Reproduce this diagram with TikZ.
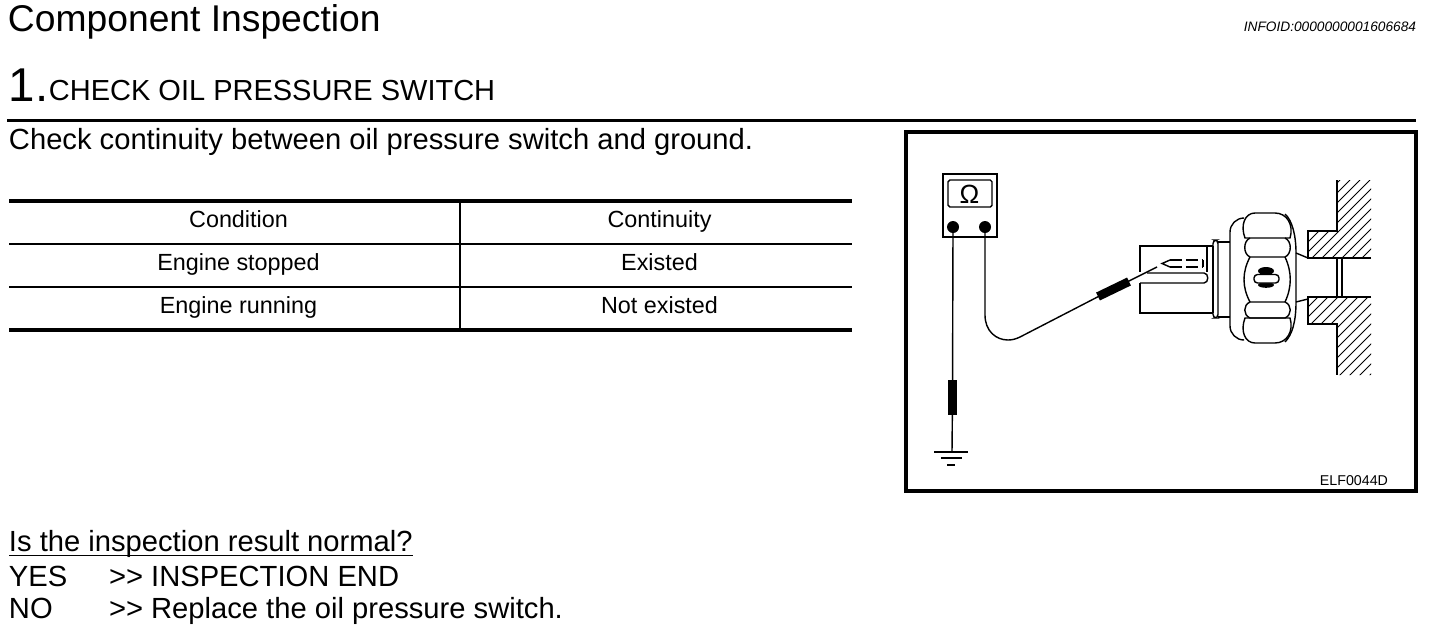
\documentclass[tikz,border=0pt]{standalone}
\usepackage{fontspec}
\setmainfont[Ligatures=NoCommon]{Liberation Sans}
\usetikzlibrary{positioning}
\tikzset{
  txt/.style={anchor=base west, inner sep=0pt, outer sep=0pt},
  big/.style={txt, font=\fontsize{21.2}{24}\selectfont},
  body/.style={txt, font=\fontsize{16.6}{20}\selectfont},
  cell/.style={anchor=base, inner sep=0pt, font=\fontsize{13.3}{16}\selectfont},
  rule/.style={black, line width=1.8pt},
  fine/.style={black, line width=0.7pt},
  part/.style={black, line width=0.8pt},
  hatch/.style={black, line width=0.55pt}
}
\begin{document}
\begin{tikzpicture}[x=0.02cm, y=-0.02cm]
\useasboundingbox (0,0) rectangle (1440,630);
%heading
\node[big] (title) at (8,31) {Component Inspection};
\node[txt, font=\fontsize{7.8}{9}\selectfont\itshape, anchor=base east] (infoid) at (1416,31) {INFOID:0000000001606684};
\node[txt, font=\fontsize{27}{30}\selectfont] (num) at (9,101) {1.};
\node[txt, font=\fontsize{16.5}{20}\selectfont] (step) at (49,100) {CHECK OIL PRESSURE SWITCH};
\draw[rule] (7,120.5) -- (1416,120.5);
\node[body] (check) at (9,149) {Check continuity between oil pressure switch and ground.};
%table
\draw[rule] (9,201) -- (852,201);
\draw[fine] (9,244) -- (852,244);
\draw[fine] (9,287) -- (852,287);
\draw[rule] (9,330) -- (852,330);
\draw[fine] (460,201) -- (460,330);
\node[cell] (cond) at (238.5,227) {Condition};
\node[cell] (cont) at (659.5,227) {Continuity};
\node[cell] (stopped) at (238.5,270) {Engine stopped};
\node[cell] (existed) at (659.5,270) {Existed};
\node[cell] (running) at (238.5,313) {Engine running};
\node[cell] (notex) at (659.5,313) {Not existed};
%result
\node[body] (result) at (9,551) {Is the inspection result normal?};
\draw[fine] (9,555.5) -- (413,555.5);
\node[body] (yes) at (9,586) {YES};
\node[body] (yesend) at (109,586) {>{}> INSPECTION END};
\node[body] (no) at (9,618) {NO};
\node[body] (noend) at (109,618) {>{}> Replace the oil pressure switch.};
%frame
\draw[black, line width=2pt] (906,132) rectangle (1416,491);
\node[txt, font=\fontsize{8.1}{9}\selectfont, anchor=base east] (elf) at (1388,485) {ELF0044D};
%meter
\draw[part] (943,174) rectangle (997,237);
\draw[part, rounded corners=1pt] (948,180) rectangle (992,207);
\node[inner sep=0pt, font=\fontsize{15}{16}\selectfont] (ohm) at (969.5,194) {Ω};
\fill (953,227) circle (6);
\fill (985,227) circle (6);
\coordinate (termA) at (953,227);
\coordinate (termB) at (985,227);
%leads
\coordinate (probeA) at (952.5,398);
\coordinate (gnd) at (952,452);
\coordinate (probeB) at (1112,289.5);
\coordinate (tipB) at (1157,267);
\draw[part] (termA) -- (probeA) -- (gnd);
\draw[part] (termB) -- (985,315) .. controls (985,331) and (996,340) .. (1008,340) .. controls (1012,340) and (1016,339) .. (1020,337) -- (probeB) -- (tipB);
\draw[black, line width=5pt] (952.5,380) -- (952.5,415);
\draw[black, line width=5pt] (1098,296.5) -- (1129,281.5);
%ground
\draw[part] (934,452) -- (968,452);
\draw[part] (941,458) -- (962,458);
\draw[black, line width=1.2pt] (947,465) -- (955,465);
%connector
\draw[part] (1213,246) -- (1140,246) -- (1140,272);
\draw[part] (1140,283) -- (1140,313) -- (1213,313);
\draw[part] (1147,273) -- (1204,273) .. controls (1209,273) and (1209,283) .. (1204,283) -- (1140,283);
\draw[part] (1207,246) -- (1207,272);
\draw[part] (1213,246) -- (1213,313);
%pin
\draw[part] (1170,260) -- (1162,263.5) -- (1170,267);
\draw[part, dash pattern=on 7pt off 2pt] (1170,260) -- (1203,260);
\draw[part, dash pattern=on 7pt off 2pt] (1170,267) -- (1203,267);
\draw[part] (1203,260) -- (1203,267);
%collar
\draw[part, rounded corners=2pt] (1213,246) -- (1213,240) -- (1218,240) -- (1218,318) -- (1213,318) -- (1213,313);
\draw[part] (1218,242) -- (1230,242);
\draw[part] (1218,317) -- (1230,317);
%nut
\draw[part, rounded corners=8pt] (1244,218) -- (1230,218) -- (1230,340) -- (1244,340);
\draw[part] (1285,214) .. controls (1292,220) and (1296,235) .. (1296,253) -- (1296,302) .. controls (1296,322) and (1292,335) .. (1285,342);
%lobes
\draw[part] (1245,238) .. controls (1240,225) and (1245,213) .. (1255,213) -- (1275,213) .. controls (1287,213) and (1294,225) .. (1290,238) -- cycle;
\draw[part] (1250,238) .. controls (1243,241) and (1243,254) .. (1250,257) -- (1285,257) .. controls (1292,254) and (1292,241) .. (1285,238);
\draw[part] (1250,257) .. controls (1242,272) and (1242,287) .. (1250,302);
\draw[part] (1285,257) .. controls (1292,272) and (1292,287) .. (1285,302);
\draw[part] (1250,302) .. controls (1243,305) and (1243,315) .. (1250,318) -- (1285,318) .. controls (1292,315) and (1292,305) .. (1285,302) -- cycle;
\draw[part] (1245,318) .. controls (1240,331) and (1245,343) .. (1255,343) -- (1275,343) .. controls (1287,343) and (1294,331) .. (1290,318) -- cycle;
%slot
\fill (1266,271) ellipse (8 and 4);
\fill (1266,285) ellipse (8 and 2.8);
\draw[part, fill=white, rounded corners=2pt] (1254,274.5) rectangle (1279,283);
%thread
\draw[part] (1296,253) -- (1308,258);
\draw[part] (1296,302) -- (1308,299);
\draw[part] (1342,258) -- (1342,297);
\draw[part] (1337,258) -- (1337,297);
%wall
\begin{scope}
\clip (1308,231) -- (1337,231) -- (1337,180) -- (1371,180) -- (1371,258) -- (1308,258) -- cycle;
\foreach \hx in {0,10,...,220} {\draw[hatch] (1200+\hx,290) -- (1200+\hx+110,180);}
\end{scope}
\begin{scope}
\clip (1308,297) -- (1371,297) -- (1371,375) -- (1337,375) -- (1337,324) -- (1308,324) -- cycle;
\foreach \hx in {0,10,...,220} {\draw[hatch] (1200+\hx,405) -- (1200+\hx+110,295);}
\end{scope}
\draw[part] (1337,180) -- (1337,231) -- (1308,231) -- (1308,258) -- (1371,258);
\draw[part] (1371,297) -- (1308,297) -- (1308,324) -- (1337,324) -- (1337,375);
\end{tikzpicture}
\end{document}
